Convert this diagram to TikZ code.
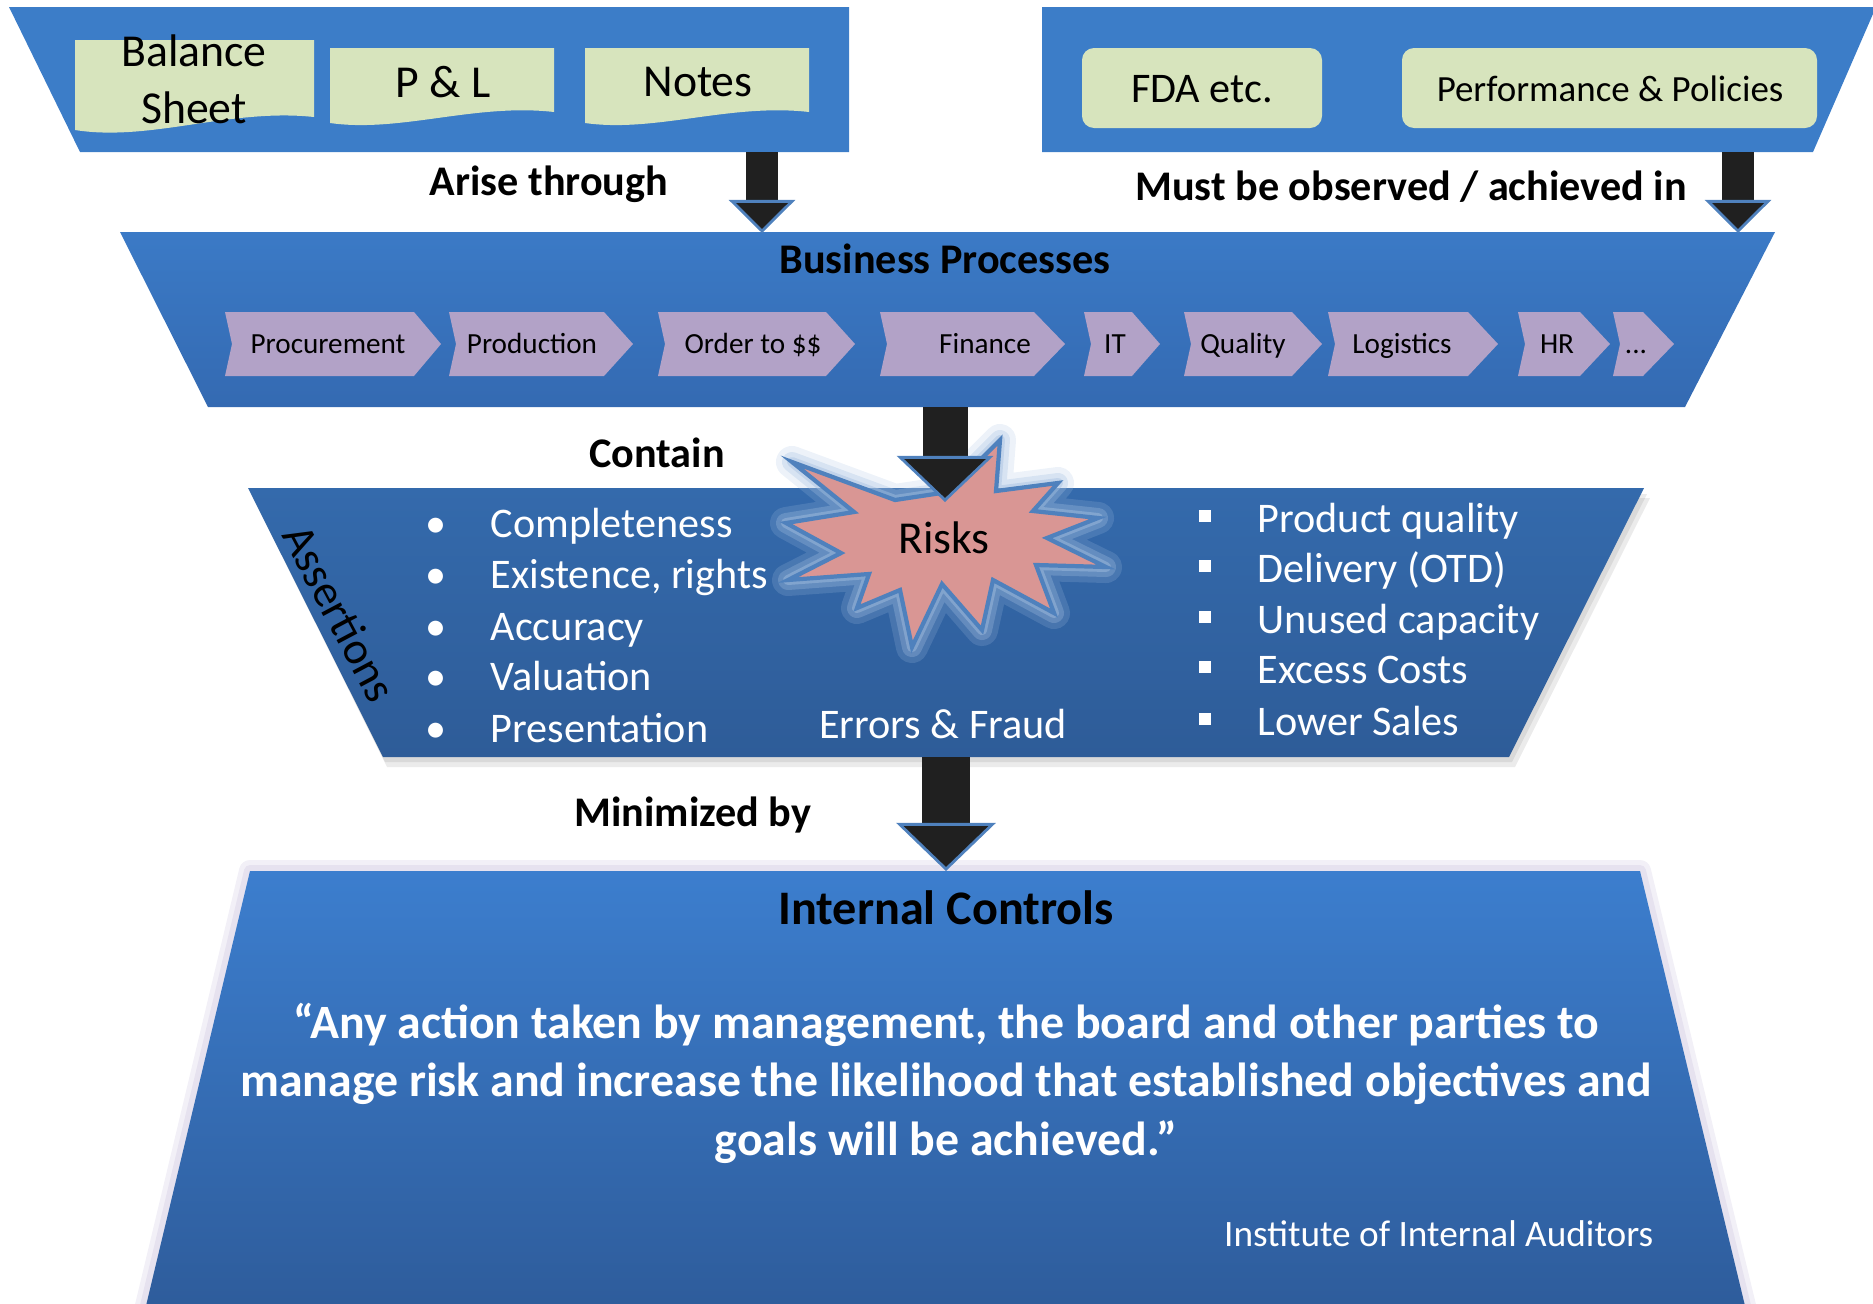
\documentclass[tikz,border=0pt]{standalone}
\usepackage{fontspec}
\setmainfont{Carlito}
\usetikzlibrary{arrows.meta}

\definecolor{panelblue}{RGB}{60,125,200}
\definecolor{bptop}{RGB}{59,122,198}
\definecolor{bpbot}{RGB}{52,106,178}
\definecolor{astop}{RGB}{52,106,172}
\definecolor{asbot}{RGB}{46,92,152}
\definecolor{ictop}{RGB}{60,126,206}
\definecolor{icbot}{RGB}{46,92,155}
\definecolor{icglow}{RGB}{218,212,232}
\definecolor{docgreen}{RGB}{215,228,189}
\definecolor{chevlilac}{RGB}{178,162,199}
\definecolor{riskpink}{RGB}{217,150,148}
\definecolor{riskedge}{RGB}{79,129,189}
\definecolor{glowblue}{RGB}{165,192,225}
\definecolor{arrowfill}{RGB}{32,32,32}

\tikzset{
    lbl/.style={font=\bfseries\fontsize{12}{14}\selectfont, inner sep=0pt, anchor=base},
    doctext/.style={font=\fontsize{13}{16.2}\selectfont, align=center, inner sep=0pt},
    chevtext/.style={font=\fontsize{8.3}{10}\selectfont, inner sep=0pt, anchor=base},
    wlist/.style={font=\fontsize{12}{14}\selectfont, text=white, inner sep=0pt, anchor=base west},
    sqbullet/.style={fill=white, minimum size=0.12cm, inner sep=0pt},
    fatarrow/.style n args={3}{arrowfill, line width=#1,
        -{Triangle[length=#2, width=#3, line width=0.8pt, color=riskedge, fill=arrowfill]}}
}

\newcommand{\riskstar}[1]{\draw[#1] (792,462) -- (895,500) -- (948,492) -- (1000,440) -- (996,491)
    -- (1058,483) -- (1033,511) -- (1098,518) -- (1047,538) -- (1106,567) -- (1036,565)
    -- (1054,613) -- (993,580) -- (982,630) -- (942,584) -- (912,647) -- (900,590)
    -- (857,608) -- (869,574) -- (788,580) -- (841,553) -- (786,523) -- (854,512) -- cycle;}

\begin{document}
\begin{tikzpicture}[x=0.01cm, y=-0.01cm]
            \useasboundingbox (0,0) rectangle (1873,1303);

            \fill[panelblue] (9,7) -- (849,7) -- (849,152) -- (80,152) -- cycle;
            \fill[panelblue] (1042,7) -- (1876,7) -- (1813,152) -- (1042,152) -- cycle;

            \fill[docgreen] (75,40) -- (314,40) -- (314,117) .. controls (230,108) and (150,142) .. (75,130) -- cycle;
            \fill[docgreen] (330,48) -- (554,48) -- (554,112) .. controls (475,103) and (400,133) .. (330,123) -- cycle;
            \fill[docgreen] (585,48) -- (809,48) -- (809,112) .. controls (730,103) and (655,133) .. (585,123) -- cycle;
            \fill[docgreen, rounded corners=0.12cm] (1082,48) rectangle (1322,128);
            \fill[docgreen, rounded corners=0.12cm] (1402,48) rectangle (1817,128);

            \node[doctext] at(194, 79)(bs){Balance\\Sheet};
            \node[doctext] at(443, 82)(pl){P \& L};
            \node[doctext] at(698, 82)(notes){Notes};
            \node[doctext, font=\fontsize{12}{14}\selectfont] at(1202, 89)(fda){FDA etc.};
            \node[doctext, font=\fontsize{10.5}{13}\selectfont] at(1610, 89)(perf){Performance \& Policies};

            \shade[top color=bptop, bottom color=bpbot] (120,232) -- (1775,232) -- (1685,407) -- (208,407) -- cycle;
            \node[lbl] at(945, 273)(bp){Business Processes};

            \fill[chevlilac] (225,312) -- (414,312) -- (441,344) -- (414,376) -- (225,376) -- (232,344) -- cycle;
            \fill[chevlilac] (449,312) -- (604,312) -- (633,344) -- (604,376) -- (449,376) -- (456,344) -- cycle;
            \fill[chevlilac] (658,312) -- (826,312) -- (855,344) -- (826,376) -- (658,376) -- (665,344) -- cycle;
            \fill[chevlilac] (880,312) -- (1034,312) -- (1065,344) -- (1034,376) -- (880,376) -- (887,344) -- cycle;
            \fill[chevlilac] (1084,312) -- (1132,312) -- (1160,344) -- (1132,376) -- (1084,376) -- (1091,344) -- cycle;
            \fill[chevlilac] (1184,312) -- (1292,312) -- (1322,344) -- (1292,376) -- (1184,376) -- (1191,344) -- cycle;
            \fill[chevlilac] (1328,312) -- (1468,312) -- (1498,344) -- (1468,376) -- (1328,376) -- (1335,344) -- cycle;
            \fill[chevlilac] (1518,312) -- (1580,312) -- (1610,344) -- (1580,376) -- (1518,376) -- (1525,344) -- cycle;
            \fill[chevlilac] (1613,312) -- (1643,312) -- (1674,344) -- (1643,376) -- (1613,376) -- (1620,344) -- cycle;

            \node[chevtext] at(328, 353)(proc){Procurement};
            \node[chevtext] at(532, 353)(prod){Production};
            \node[chevtext] at(753, 353)(otc){Order to \$\$};
            \node[chevtext] at(985, 353)(fin){Finance};
            \node[chevtext] at(1115, 353)(it){IT};
            \node[chevtext] at(1243, 353)(qual){Quality};
            \node[chevtext] at(1402, 353)(logi){Logistics};
            \node[chevtext] at(1557, 353)(hr){HR};
            \node[chevtext] at(1636, 353)(more){...};

            \coordinate (arise-s) at (762,152);
            \coordinate (arise-t) at (762,233);
            \coordinate (must-s) at (1738,152);
            \coordinate (must-t) at (1738,233);
            \draw[fatarrow={0.32cm}{0.33cm}{0.66cm}] (arise-s) -- (arise-t);
            \draw[fatarrow={0.32cm}{0.33cm}{0.66cm}] (must-s) -- (must-t);
            \node[lbl] at(549, 195)(arise){Arise through};
            \node[lbl] at(1411, 200)(must){Must be observed / achieved in};

            \fill[black, opacity=0.08] (253,498) -- (1650,498) -- (1515,767) -- (387,767) -- cycle;
            \fill[black, opacity=0.08] (251,494) -- (1647,494) -- (1512,762) -- (385,762) -- cycle;
            \shade[top color=astop, bottom color=asbot] (248,488) -- (1644,488) -- (1509,757) -- (383,757) -- cycle;
            \node[font=\fontsize{13}{15}\selectfont, rotate=-62, inner sep=0pt] at(340, 613)(asrt){Assertions};

            \node[wlist] at(425, 537)(b1){•};
            \node[wlist] at(490, 537)(l1){Completeness};
            \node[wlist] at(425, 588)(b2){•};
            \node[wlist] at(490, 588)(l2){Existence, rights};
            \node[wlist] at(425, 640)(b3){•};
            \node[wlist] at(490, 640)(l3){Accuracy};
            \node[wlist] at(425, 690)(b4){•};
            \node[wlist] at(490, 690)(l4){Valuation};
            \node[wlist] at(425, 742)(b5){•};
            \node[wlist] at(490, 742)(l5){Presentation};

            \node[sqbullet] at(1205, 516)(s1){};
            \node[wlist] at(1257, 532)(r1){Product quality};
            \node[sqbullet] at(1205, 566)(s2){};
            \node[wlist] at(1257, 582)(r2){Delivery (OTD)};
            \node[sqbullet] at(1205, 617)(s3){};
            \node[wlist] at(1257, 633)(r3){Unused capacity};
            \node[sqbullet] at(1205, 667)(s4){};
            \node[wlist] at(1257, 683)(r4){Excess Costs};
            \node[sqbullet] at(1205, 719)(s5){};
            \node[wlist] at(1257, 735)(r5){Lower Sales};

            \node[wlist, anchor=base] at(943, 738)(errf){Errors \& Fraud};

            \riskstar{glowblue, line width=0.32cm, opacity=0.2, line join=round}
            \riskstar{glowblue, line width=0.2cm, opacity=0.3, line join=round}
            \riskstar{glowblue, line width=0.1cm, opacity=0.45, line join=round}
            \riskstar{riskedge, fill=riskpink, line width=1.2pt}
            \node[font=\fontsize{13}{15}\selectfont, inner sep=0pt, anchor=base] at(944, 553)(risks){Risks};

            \coordinate (cont-s) at (945,407);
            \coordinate (cont-t) at (945,502);
            \draw[fatarrow={0.45cm}{0.46cm}{0.96cm}] (cont-s) -- (cont-t);
            \node[lbl] at(657, 467)(cont){Contain};

            \draw[icglow, line width=0.22cm, opacity=0.35, line join=round] (250,871) -- (1640,871) -- (1746,1310) -- (145,1310) -- cycle;
            \draw[icglow, line width=0.12cm, opacity=0.5, line join=round] (250,871) -- (1640,871) -- (1746,1310) -- (145,1310) -- cycle;
            \shade[top color=ictop, bottom color=icbot] (250,871) -- (1640,871) -- (1746,1310) -- (145,1310) -- cycle;

            \coordinate (min-s) at (946,757);
            \coordinate (min-t) at (946,871);
            \draw[fatarrow={0.48cm}{0.48cm}{0.99cm}] (min-s) -- (min-t);
            \node[lbl] at(693, 826)(mini){Minimized by};

            \node[lbl, font=\bfseries\fontsize{13.7}{16}\selectfont] at(946, 924)(ic){Internal Controls};
            \node[lbl, text=white, align=center, font=\bfseries\fontsize{13.6}{16.5}\selectfont] at(946, 1155)(quote){“Any action taken by management, the board and other parties to\\manage risk and increase the likelihood that established objectives and\\goals will be achieved.”};
            \node[font=\fontsize{10.6}{13}\selectfont, text=white, inner sep=0pt, anchor=base east] at(1654, 1246)(iia){Institute of Internal Auditors};

\end{tikzpicture}
\end{document}
